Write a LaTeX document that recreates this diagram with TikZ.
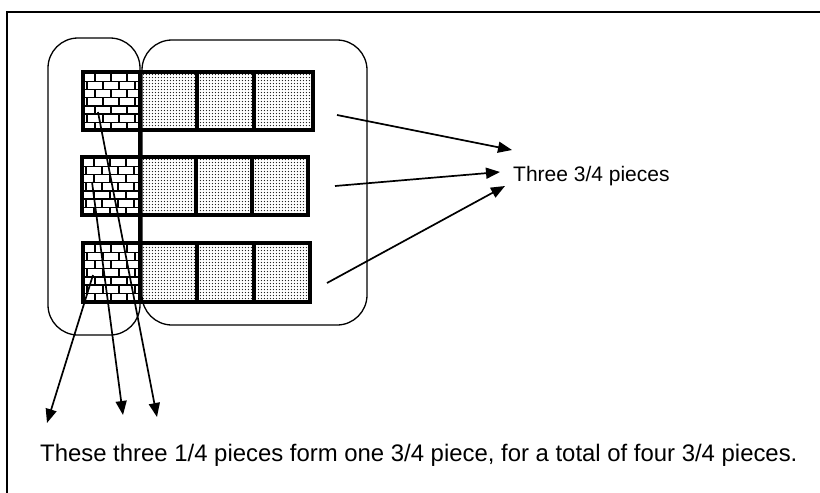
\documentclass[tikz,border=0pt]{standalone}
\usepackage{fontspec}
\setmainfont{Liberation Sans}
\usetikzlibrary{patterns,arrows.meta}
\pgfdeclarepatternformonly{celldots}{\pgfpointorigin}{\pgfqpoint{3.4pt}{3.4pt}}{\pgfqpoint{3.4pt}{3.4pt}}{%
  \pgfpathcircle{\pgfqpoint{1.7pt}{1.7pt}}{0.8pt}\pgfusepath{fill}}
\newcommand\brickcell[4]{%
  \begin{scope}
    \clip (#1,#2) rectangle (#3,#4);
    \foreach \i in {0,...,8} {\draw[brick] ({#1},{#2+1+\i*8.2}) -- ({#3},{#2+1+\i*8.2});}
    \foreach \i in {0,...,7} {
      \pgfmathsetmacro\off{mod(\i,2)*8}
      \foreach \j in {0,...,4} {\draw[brick] ({#1-4+\off+\j*16},{#2+1+\i*8.2}) -- ++(0,8.2);}
    }
  \end{scope}
  \draw[cellbox] (#1,#2) rectangle (#3,#4);
}
\newcommand\dotcell[4]{%
  \fill[pattern=celldots, pattern color=black!85] (#1,#2) rectangle (#3,#4);
  \draw[cellbox] (#1,#2) rectangle (#3,#4);
}
\begin{document}
\begin{tikzpicture}[x=1pt,y=-1pt,
  frame/.style={line width=1.5pt},
  group/.style={line width=1.3pt, rounded corners=30pt},
  cellbox/.style={line width=3.4pt},
  brick/.style={line width=1.4pt},
  arr/.style={line width=1.7pt,-{Triangle[length=14pt,width=11pt]}},
  lbl/.style={inner sep=0pt}]
\useasboundingbox (0,0) rectangle (820,493);
\fill[white] (0,0) rectangle (820,493);
\draw[frame] (820,12) -- (7,12) -- (7,493);
% groups
\draw[group] (48,38) rectangle (140,335);
\draw[group] (142,40) rectangle (367,325);
% row 1
\brickcell{83}{72}{140}{130}
\dotcell{140}{72}{197}{130}
\dotcell{197}{72}{254}{130}
\dotcell{254}{72}{313}{130}
% row 2
\brickcell{82}{157}{140}{215}
\dotcell{140}{157}{196}{215}
\dotcell{196}{157}{252}{215}
\dotcell{252}{157}{308}{215}
% row 3
\brickcell{83}{243}{140}{302}
\dotcell{140}{243}{197}{302}
\dotcell{197}{243}{254}{302}
\dotcell{254}{243}{310}{302}
\draw[cellbox] (140,72) -- (140,302);
% labels
\node[lbl, anchor=base west, font=\fontsize{21}{25}\selectfont] (t1) at (513,181) {Three 3/4 pieces};
\node[lbl, anchor=base west, font=\fontsize{23.9}{28}\selectfont] (t2) at (40,461) {These three 1/4 pieces form one 3/4 piece, for a total of four 3/4 pieces.};
% coordinates
\coordinate (s1) at (337,115); \coordinate (e1) at (512,150);
\coordinate (s2) at (335,186); \coordinate (e2) at (500,172);
\coordinate (s3) at (327,283); \coordinate (e3) at (505,186);
\coordinate (u1) at (98,112);  \coordinate (f1) at (157,417);
\coordinate (u2) at (92,182);  \coordinate (f2) at (123,415);
\coordinate (u3) at (93,275);  \coordinate (f3) at (47,423);
\draw[arr] (s1) -- (e1);
\draw[arr] (s2) -- (e2);
\draw[arr] (s3) -- (e3);
\draw[arr] (u1) -- (f1);
\draw[arr] (u2) -- (f2);
\draw[arr] (u3) -- (f3);
\end{tikzpicture}
\end{document}
